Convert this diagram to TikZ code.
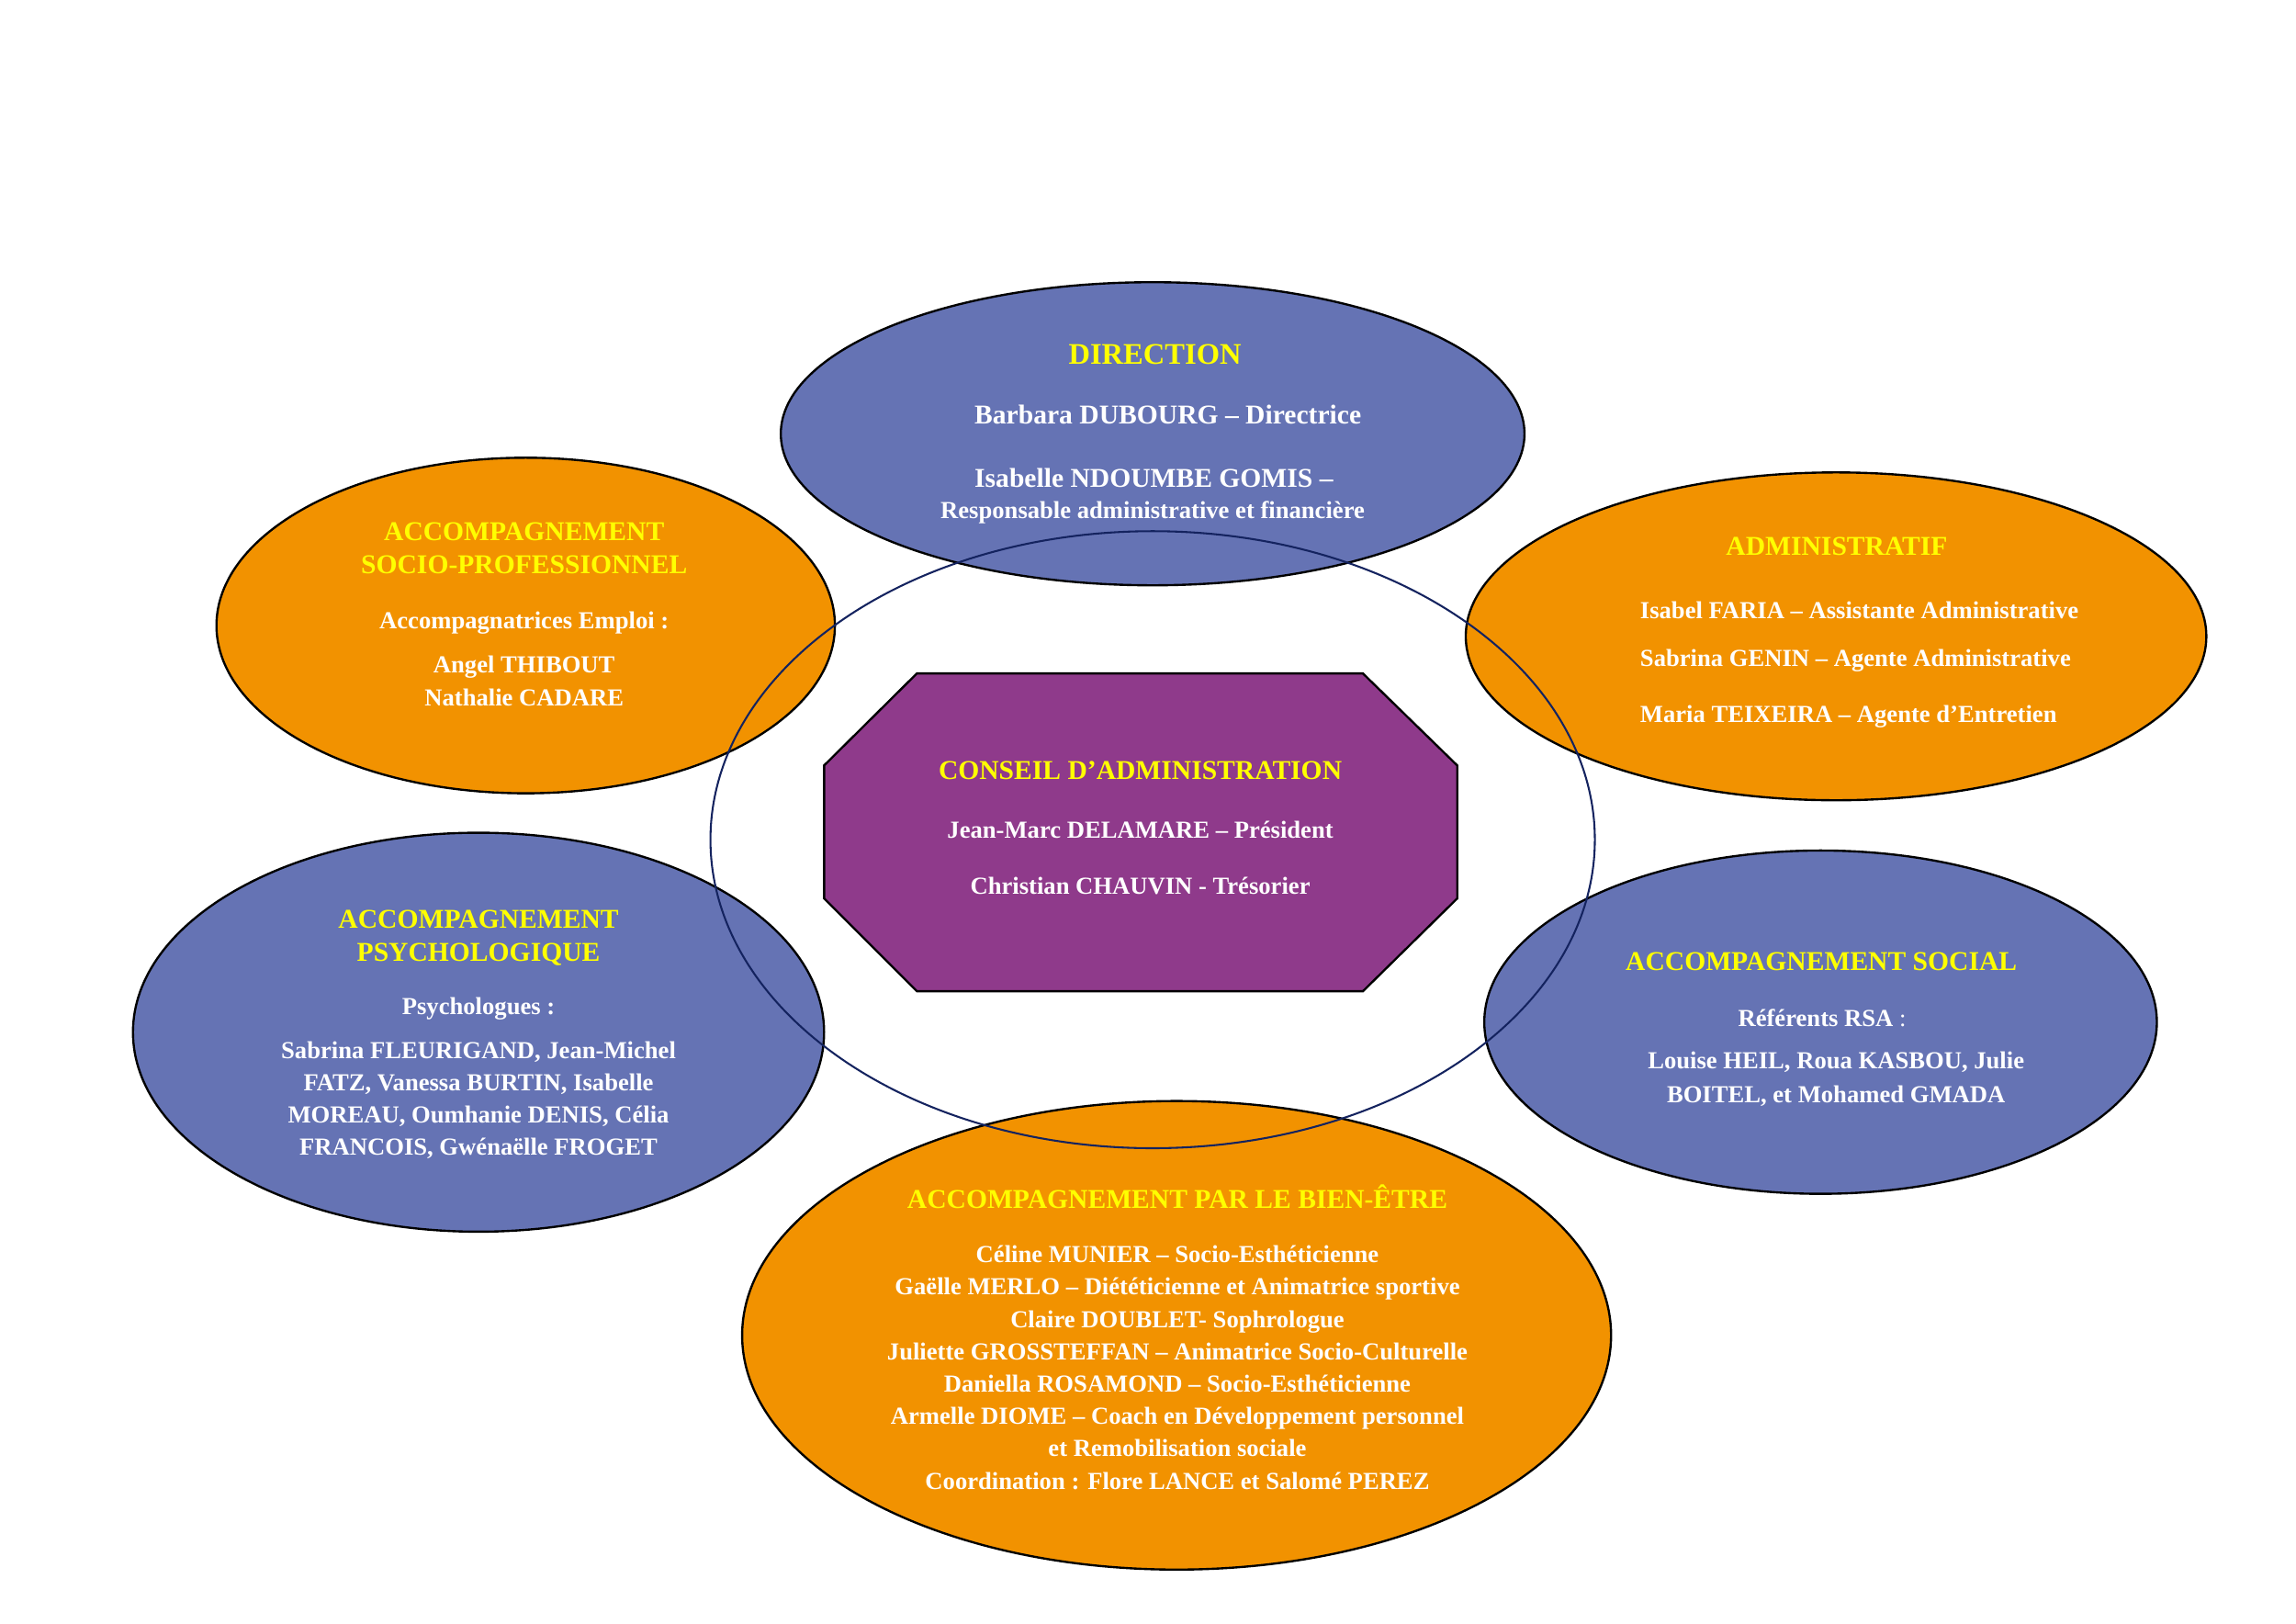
\documentclass[tikz,border=0pt]{standalone}
\usepackage{fontspec}
\setmainfont{Liberation Serif}
\usetikzlibrary{shapes.geometric}

\definecolor{poleblue}{RGB}{101,115,180}
\definecolor{poleorange}{RGB}{242,146,0}
\definecolor{boardpurple}{RGB}{143,58,139}
\definecolor{titleyellow}{RGB}{255,255,0}
\definecolor{ringnavy}{RGB}{20,35,95}

\tikzset{
  pole/.style={ellipse, draw=black, line width=0.8pt, inner sep=0pt},
  head/.style={text=titleyellow, font=\bfseries\fontsize{10}{12}\selectfont, inner sep=0pt, align=center, yshift=-0.8pt},
  body/.style={text=white, font=\bfseries\fontsize{9}{11.9}\selectfont, inner sep=0pt, align=center, yshift=-0.8pt},
  bigbody/.style={body, font=\bfseries\fontsize{10}{12}\selectfont},
}

\begin{document}
\begin{tikzpicture}
  \useasboundingbox (0,0) rectangle (29.7,21.0);
  % the six poles
  \node[pole, fill=poleblue, minimum width=9.62cm, minimum height=3.92cm] (direction) at (14.91,15.39) {};
  \node[pole, fill=poleorange, minimum width=8.00cm, minimum height=4.34cm] (socpro) at (6.80,12.91) {};
  \node[pole, fill=poleorange, minimum width=9.58cm, minimum height=4.24cm] (admin) at (23.75,12.77) {};
  \node[pole, fill=poleblue, minimum width=8.94cm, minimum height=5.16cm] (psycho) at (6.19,7.65) {};
  \node[pole, fill=poleblue, minimum width=8.70cm, minimum height=4.44cm] (social) at (23.55,7.78) {};
  \node[pole, fill=poleorange, minimum width=11.24cm, minimum height=6.06cm] (bienetre) at (15.22,3.73) {};
  % board
  \draw[fill=boardpurple, line width=0.8pt] (11.86,12.29) -- (17.63,12.29) -- (18.85,11.10) -- (18.85,9.38)
    -- (17.63,8.18) -- (11.86,8.18) -- (10.66,9.38) -- (10.66,11.10) -- cycle;
  % ring
  \draw[ringnavy, line width=0.7pt] (14.91,10.14) ellipse [x radius=5.72, y radius=3.99];

  % direction
  \node[head, font=\bfseries\fontsize{11}{13}\selectfont] (dirhead) at (14.94,16.44) {DIRECTION};
  \node[bigbody, anchor=west] (dir1) at (12.60,15.66) {Barbara DUBOURG – Directrice};
  \node[bigbody, anchor=west] (dir2) at (12.60,14.85) {Isabelle NDOUMBE GOMIS –};
  \node[body] (dir3) at (14.91,14.40) {Responsable administrative et financière};

  % socio-professionnel
  \node[head] (sphead) at (6.78,13.94) {ACCOMPAGNEMENT\\SOCIO-PROFESSIONNEL};
  \node[body] (sp1) at (6.78,12.97) {Accompagnatrices Emploi :};
  \node[body] (sp2) at (6.78,12.22) {Angel THIBOUT\\Nathalie CADARE};

  % administratif
  \node[head] (adhead) at (23.76,13.96) {ADMINISTRATIF};
  \node[body, anchor=west] (ad1) at (21.21,13.13) {Isabel FARIA – Assistante Administrative};
  \node[body, anchor=west] (ad2) at (21.21,12.48) {Sabrina GENIN – Agente Administrative};
  \node[body, anchor=west] (ad3) at (21.21,11.76) {Maria TEIXEIRA – Agente d’Entretien};

  % conseil
  \node[head] (cahead) at (14.75,11.06) {CONSEIL D’ADMINISTRATION};
  \node[body] (ca1) at (14.75,10.30) {Jean-Marc DELAMARE – Président};
  \node[body] (ca2) at (14.75,9.57) {Christian CHAUVIN - Trésorier};

  % psychologique
  \node[head] (pshead) at (6.19,8.90) {ACCOMPAGNEMENT\\PSYCHOLOGIQUE};
  \node[body] (ps1) at (6.19,7.98) {Psychologues :};
  \node[body] (ps2) at (6.19,6.80) {Sabrina FLEURIGAND, Jean-Michel\\FATZ, Vanessa BURTIN, Isabelle\\
    MOREAU, Oumhanie DENIS, Célia\\FRANCOIS, Gwénaëlle FROGET};

  % social
  \node[head] (sohead) at (23.56,8.59) {ACCOMPAGNEMENT SOCIAL};
  \node[body] (so1) at (23.57,7.86) {Référents RSA \textmd{:}};
  \node[body, font=\bfseries\fontsize{9}{12.3}\selectfont] (so2) at (23.75,7.07) {Louise HEIL, Roua KASBOU, Julie\\BOITEL, et Mohamed GMADA};

  % bien-etre
  \node[head] (behead) at (15.23,5.55) {ACCOMPAGNEMENT PAR LE BIEN-ÊTRE};
  \node[body] (be1) at (15.23,3.34) {Céline MUNIER – Socio-Esthéticienne\\
    Gaëlle MERLO – Diététicienne et Animatrice sportive\\
    Claire DOUBLET- Sophrologue\\
    Juliette GROSSTEFFAN – Animatrice Socio-Culturelle\\
    Daniella ROSAMOND – Socio-Esthéticienne\\
    Armelle DIOME – Coach en Développement personnel\\
    et Remobilisation sociale\\
    Coordination : Flore LANCE et Salomé PEREZ};
\end{tikzpicture}
\end{document}
